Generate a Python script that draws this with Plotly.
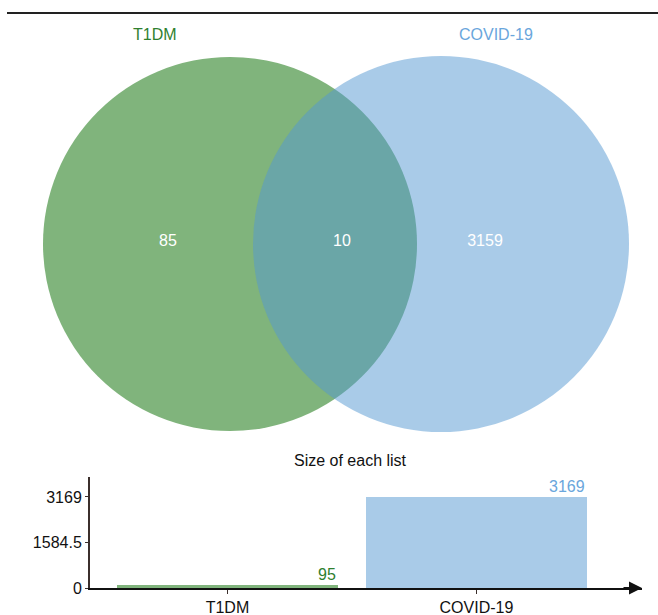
import plotly.graph_objects as go

# Two gene lists and their overlap
set_names = ["T1DM", "COVID-19"]
set_sizes = [95, 3169]
only_t1dm = 85
shared = 10
only_covid = 3159
size_ticks = [0, 1584.5, 3169]

W, H = 658, 615
FONT = "Liberation Sans, Arial, sans-serif"
FS = 16
green_fill = "rgb(128,180,124)"
blue_fill = "rgba(83,151,209,0.5)"
green_text = "#2f7f2f"
blue_text = "#6aa6dc"
bar_green = "#80b47c"
bar_blue = "#a9cbe8"
axis_col = "#3b2f2c"

fig = go.Figure()

# Venn panel: pixel-like coordinates across the whole page
circles = [
    dict(cx=230, cy=244, r=187, fill=green_fill),
    dict(cx=441, cy=244, r=188, fill=blue_fill),
]
shapes = []
for c in circles:
    shapes.append(dict(
        type="circle", xref="x", yref="y", layer="below",
        x0=c["cx"] - c["r"], x1=c["cx"] + c["r"],
        y0=c["cy"] - c["r"], y1=c["cy"] + c["r"],
        fillcolor=c["fill"], line=dict(width=0),
    ))
# rule across the top
shapes.append(dict(type="line", xref="x", yref="y", x0=7, x1=658, y0=13, y1=13,
                   line=dict(color="#222222", width=2)))

fig.add_trace(go.Scatter(
    x=[168, 342, 485], y=[242, 242, 242],
    text=[str(only_t1dm), str(shared), str(only_covid)],
    mode="text", textfont=dict(color="white", size=FS, family=FONT),
    hoverinfo="skip", showlegend=False, xaxis="x", yaxis="y",
))

# Bar panel: size of each list
bar_x = [0, 1]
bar_width = 0.89
fig.add_trace(go.Bar(
    x=bar_x, y=set_sizes, width=bar_width,
    marker=dict(color=[bar_green, bar_blue], line=dict(width=0)),
    hoverinfo="skip", showlegend=False, xaxis="x2", yaxis="y2",
))

annotations = [
    dict(x=155, y=34, xref="x", yref="y", text=set_names[0], showarrow=False,
         font=dict(color=green_text, size=FS, family=FONT)),
    dict(x=496, y=34, xref="x", yref="y", text=set_names[1], showarrow=False,
         font=dict(color=blue_text, size=FS, family=FONT)),
    dict(x=350 / W, y=1 - 460 / H, xref="paper", yref="paper", text="Size of each list",
         xanchor="center", yanchor="middle",
         showarrow=False, font=dict(color="#111111", size=FS, family=FONT)),
]
label_cols = [green_text, blue_text]
for xi, v, col in zip(bar_x, set_sizes, label_cols):
    annotations.append(dict(
        x=xi + bar_width / 2, y=v, xref="x2", yref="y2", text=str(v),
        xanchor="right", yanchor="bottom", showarrow=False, yshift=0,
        font=dict(color=col, size=FS, family=FONT),
    ))
# arrow at the end of the category axis
annotations.append(dict(
    x=642 / W, y=1 - 588 / H, xref="paper", yref="paper",
    ax=-20, ay=0, axref="pixel", ayref="pixel", text="",
    showarrow=True, arrowhead=2, arrowsize=1.3, arrowwidth=2, arrowcolor="#111111",
))

x_lo = -0.552
x_hi = 1.665
y_top = 3865

fig.update_layout(
    width=W, height=H,
    margin=dict(l=0, r=0, t=0, b=0, autoexpand=False),
    paper_bgcolor="white", plot_bgcolor="rgba(0,0,0,0)",
    shapes=shapes, annotations=annotations,
    font=dict(family=FONT, color="#111111"),
    xaxis=dict(range=[0, W], domain=[0, 1], visible=False, fixedrange=True,
               automargin=False),
    yaxis=dict(range=[H, 0], domain=[0, 1], visible=False, fixedrange=True,
               automargin=False),
    xaxis2=dict(
        domain=[90 / W, 642 / W], anchor="y2", range=[x_lo, x_hi], automargin=False,
        tickvals=bar_x, ticktext=set_names, ticks="outside", ticklen=4,
        tickcolor=axis_col, showline=True, linecolor="#111111", linewidth=2,
        showgrid=False, zeroline=False, tickfont=dict(size=FS, family=FONT, color="#111111"),
    ),
    yaxis2=dict(
        domain=[1 - 588 / H, 1 - 477 / H], anchor="x2", range=[0, y_top], automargin=False,
        tickvals=size_ticks, ticktext=["0", "1584.5", "3169"], ticks="outside",
        ticklen=3, tickcolor=axis_col, showline=True, linecolor=axis_col, linewidth=2,
        showgrid=False, zeroline=False, tickfont=dict(size=FS, family=FONT, color="#111111"),
    ),
    bargap=0,
)

fig.write_html("out.html")
